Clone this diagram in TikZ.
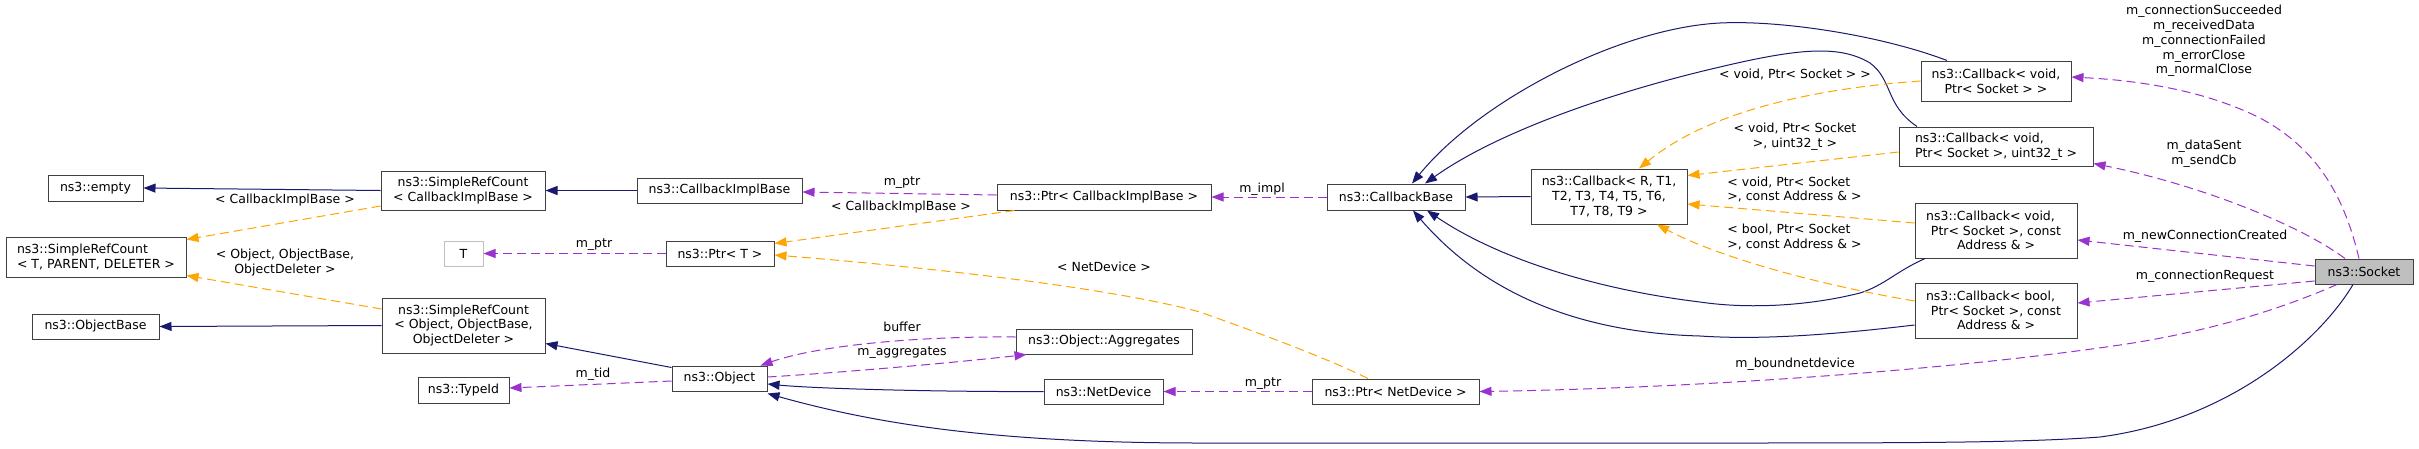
\documentclass[tikz,border=0pt]{standalone}
\usepackage{fontspec}
\setmainfont{DejaVu Sans}
\usetikzlibrary{arrows.meta}
\definecolor{cInh}{HTML}{191970}
\definecolor{cTpl}{HTML}{FFA500}
\definecolor{cUse}{HTML}{9A32CD}
\definecolor{cBord}{HTML}{404040}
\definecolor{cGray}{HTML}{BFBFBF}
\begin{document}
\begin{tikzpicture}[x=1pt,y=-1pt,
  font=\fontsize{12.5}{14.8}\selectfont,
  box/.style={draw=cBord, line width=1pt, inner sep=0pt, align=center, fill=white},
  lbl/.style={inner sep=0pt, align=center},
  tipstyle/.style={-{Triangle[length=12pt,width=9pt]}},
  inhedge/.style={draw=cInh, line width=1pt, tipstyle},
  tpledge/.style={draw=cTpl, line width=1pt, dash pattern=on 9pt off 5pt, tipstyle},
  useedge/.style={draw=cUse, line width=1pt, dash pattern=on 9pt off 5pt, tipstyle}]
\useasboundingbox[fill=white] (0,0) rectangle (2419,448);

% nodes
\node[box, minimum width=95pt, minimum height=26pt] (empty) at (95.5,188) {ns3::empty};
\node[box, minimum width=180pt, minimum height=40pt, align=left] (srcT) at (96,257) {ns3::SimpleRefCount\\< T, PARENT, DELETER >};
\node[box, minimum width=127pt, minimum height=25pt] (objbase) at (95.5,326.5) {ns3::ObjectBase};
\node[box, minimum width=164pt, minimum height=39pt] (srcCIB) at (463,190.5) {ns3::SimpleRefCount\\< CallbackImplBase >};
\node[box, minimum width=163pt, minimum height=55pt] (srcObj) at (463.5,325.5) {ns3::SimpleRefCount\\< Object, ObjectBase,\\ObjectDeleter >};
\node[box, draw=cGray, minimum width=39pt, minimum height=25pt] (T) at (463.5,253.5) {T};
\node[box, minimum width=91pt, minimum height=26pt] (typeid) at (463.5,390) {ns3::TypeId};
\node[box, minimum width=165pt, minimum height=25pt] (cib) at (719.5,190.5) {ns3::CallbackImplBase};
\node[box, minimum width=108pt, minimum height=25pt] (ptrT) at (720,253.5) {ns3::Ptr< T >};
\node[box, minimum width=95pt, minimum height=25pt] (object) at (719.5,378.5) {ns3::Object};
\node[box, minimum width=214pt, minimum height=26pt] (ptrCIB) at (1104,197) {ns3::Ptr< CallbackImplBase >};
\node[box, minimum width=176pt, minimum height=25pt] (aggr) at (1104,341.5) {ns3::Object::Aggregates};
\node[box, minimum width=119pt, minimum height=25pt] (netdev) at (1103.5,391.5) {ns3::NetDevice};
\node[box, minimum width=138pt, minimum height=26pt] (cbbase) at (1396,197) {ns3::CallbackBase};
\node[box, minimum width=167pt, minimum height=25pt] (ptrND) at (1395.5,391.5) {ns3::Ptr< NetDevice >};
\node[box, minimum width=156pt, minimum height=55pt] (cbR) at (1609,196.5) {ns3::Callback< R, T1,\\T2, T3, T4, T5, T6,\hspace*{16pt}\\T7, T8, T9 >};
\node[box, minimum width=150pt, minimum height=40pt] (cb1) at (1996,81) {ns3::Callback< void,\\Ptr< Socket > >};
\node[box, minimum width=194pt, minimum height=39pt, align=left] (cb2) at (1996,146.5) {ns3::Callback< void,\\Ptr< Socket >, uint32\_t >};
\node[box, minimum width=162pt, minimum height=55pt] (cb3) at (1996,230.5) {ns3::Callback< void,\hspace*{11pt}\\Ptr< Socket >, const\\Address \& >};
\node[box, minimum width=162pt, minimum height=55pt] (cb4) at (1996,310.5) {ns3::Callback< bool,\hspace*{11pt}\\Ptr< Socket >, const\\Address \& >};
\node[box, fill=cGray, minimum width=98pt, minimum height=25pt] (socket) at (2364,271.5) {ns3::Socket};

% edge labels
\node[lbl] (lA) at (285,200) {< CallbackImplBase >};
\node[lbl] (lB) at (285,262.5) {< Object, ObjectBase,\\ObjectDeleter >};
\node[lbl] (lC) at (594,245) {m\_ptr};
\node[lbl] (lD) at (593,374) {m\_tid};
\node[lbl] (lE) at (902,183) {m\_ptr};
\node[lbl] (lF) at (901,207) {< CallbackImplBase >};
\node[lbl] (lG) at (1104,267) {< NetDevice >};
\node[lbl] (lH) at (902,327) {buffer};
\node[lbl] (lI) at (902,353) {m\_aggregates};
\node[lbl] (lJ) at (1262,189) {m\_impl};
\node[lbl] (lK) at (1263,384) {m\_ptr};
\node[lbl] (lL) at (1795,74) {< void, Ptr< Socket > >};
\node[lbl] (lM) at (1795,137) {< void, Ptr< Socket\\>, uint32\_t >};
\node[lbl, align=left] (lN) at (1794.5,189.5) {< void, Ptr< Socket\\>, const Address \& >};
\node[lbl, align=left] (lO) at (1794.5,237) {< bool, Ptr< Socket\\>, const Address \& >};
\node[lbl] (lP) at (1795,364) {m\_boundnetdevice};
\node[lbl] (lQ) at (2204,41) {m\_connectionSucceeded\\m\_receivedData\\m\_connectionFailed\\m\_errorClose\\m\_normalClose};
\node[lbl] (lR) at (2204,154) {m\_dataSent\\m\_sendCb};
\node[lbl] (lS) at (2205,236) {m\_newConnectionCreated};
\node[lbl] (lT) at (2205,276) {m\_connectionRequest};

% inheritance
\draw[inhedge] (srcCIB.west) -- (empty.east);
\draw[inhedge] (cib.west) -- (srcCIB.east);
\draw[inhedge] (srcObj.west) -- (objbase.east);
\draw[inhedge] ([yshift=-2pt]object.north west) -- ([yshift=10pt]srcObj.south east);
\draw[inhedge] (netdev.west) .. controls (950,392) and (820,389) .. ([yshift=-5.5pt]object.east);
\draw[inhedge] ([xshift=-11pt]socket.south) .. controls (2320,340) and (2230,420) .. (2100,437) .. controls (2020,443) and (1900,443) .. (1700,443) -- (1200,443) .. controls (1000,443) and (880,425) .. ([yshift=-2pt]object.south east);
\draw[inhedge] (cbR.west) -- (cbbase.east);
\draw[inhedge] ([xshift=-49pt]cb1.north) .. controls (1880,35) and (1780,20) .. (1720,23) .. controls (1620,28) and (1480,100) .. ([xshift=16pt]cbbase.north);
\draw[inhedge] ([xshift=-79pt]cb2.north) .. controls (1885,105) and (1893,80) .. (1870,63) .. controls (1840,45) and (1800,48) .. (1720,67) .. controls (1620,90) and (1500,130) .. ([xshift=29pt]cbbase.north);
\draw[inhedge] ([xshift=-71pt]cb3.south) .. controls (1895,272) and (1885,285) .. (1860,293) .. controls (1800,308) and (1740,308) .. (1700,302) .. controls (1600,290) and (1500,260) .. ([xshift=31pt]cbbase.south);
\draw[inhedge] ([yshift=-14.5pt]cb4.west) .. controls (1830,335) and (1760,340) .. (1700,336) .. controls (1590,333) and (1490,300) .. ([xshift=17pt]cbbase.south);

% template instances
\draw[tpledge] ([yshift=-15.5pt]srcCIB.west) -- ([yshift=-3pt]srcT.north east);
\draw[tpledge] ([yshift=16.5pt]srcObj.west) -- ([yshift=2pt]srcT.south east);
\draw[tpledge] ([xshift=18pt]ptrCIB.south west) -- ([yshift=-3pt]ptrT.north east);
\draw[tpledge] ([xshift=-27.5pt]ptrND.north) .. controls (1320,355) and (1250,330) .. (1200,312) .. controls (1100,285) and (900,265) .. ([yshift=-1.5pt]ptrT.east);
\draw[tpledge] (cb1.west) .. controls (1820,88) and (1710,110) .. ([xshift=30pt]cbR.north);
\draw[tpledge] ([yshift=-5.5pt]cb2.west) -- ([yshift=-7pt]cbR.north east);
\draw[tpledge] ([yshift=7.5pt]cb3.west) -- ([yshift=-7.5pt]cbR.east);
\draw[tpledge] ([yshift=9.5pt]cb4.west) .. controls (1820,285) and (1720,258) .. ([xshift=48pt]cbR.south);

% usage
\draw[useedge] (ptrT.west) -- (T.east);
\draw[useedge] ([yshift=-2.5pt]object.west) -- ([yshift=2pt]typeid.east);
\draw[useedge] ([yshift=2pt]ptrCIB.west) -- ([yshift=-1.5pt]cib.east);
\draw[useedge] (cbbase.west) -- (ptrCIB.east);
\draw[useedge] ([yshift=4.5pt]aggr.west) .. controls (920,336) and (820,345) .. ([xshift=-7pt]object.north east);
\draw[useedge] ([yshift=1.5pt]object.east) .. controls (850,372) and (960,362) .. ([xshift=11pt]aggr.south west);
\draw[useedge] (ptrND.west) -- (netdev.east);
\draw[useedge] ([xshift=-27pt]socket.south) .. controls (2290,305) and (2220,330) .. (2120,345) .. controls (1950,370) and (1700,388) .. (ptrND.east);
\draw[useedge] ([xshift=-5pt]socket.north) .. controls (2345,200) and (2320,150) .. (2260,118) .. controls (2200,88) and (2130,80) .. ([yshift=4pt]cb1.east);
\draw[useedge] ([xshift=-19pt]socket.north) .. controls (2300,225) and (2200,185) .. ([yshift=3pt]cb2.south east);
\draw[useedge] ([yshift=5.5pt]socket.west) -- ([yshift=-9.5pt]cb3.east);
\draw[useedge] ([yshift=-9.5pt]socket.west) -- ([yshift=7.5pt]cb4.east);
\end{tikzpicture}
\end{document}
